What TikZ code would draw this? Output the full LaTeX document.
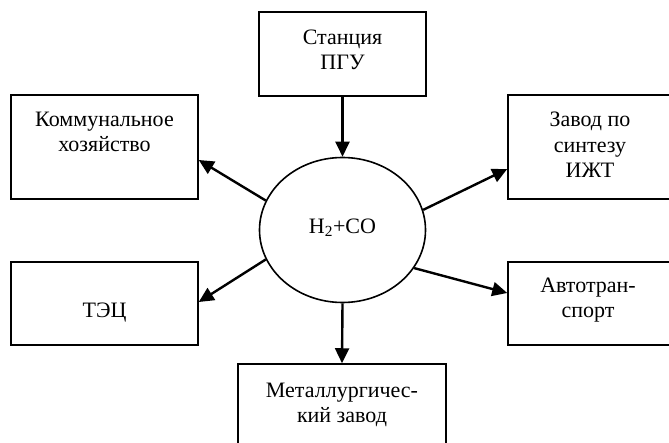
\documentclass[tikz,border=0pt]{standalone}
\usepackage{fontspec}
\setmainfont{Liberation Serif}
\usetikzlibrary{shapes.geometric,arrows.meta}
\begin{document}
\begin{tikzpicture}[x=1pt,y=-1pt,
  box/.style={draw,line width=1.5pt,inner sep=0pt},
  lbl/.style={align=center,inner sep=0pt,font=\fontsize{22}{25.5}\selectfont},
  hub/.style={draw,ellipse,line width=1.6pt,inner sep=0pt,minimum width=166pt,minimum height=145pt},
  arr/.style={line width=2.4pt,-{Triangle[length=15pt,width=14pt]}}]
\useasboundingbox (0,0) rectangle (669,443);
% boxes
\node[box,minimum width=167pt,minimum height=84pt] (top) at (342.5,54) {};
\node[box,minimum width=187pt,minimum height=104pt] (ul) at (104.5,147) {};
\node[box,minimum width=164pt,minimum height=104pt] (ur) at (590,147) {};
\node[box,minimum width=187pt,minimum height=83pt] (ll) at (104.5,303.5) {};
\node[box,minimum width=164pt,minimum height=83pt] (lr) at (590,303.5) {};
\node[box,minimum width=208pt,minimum height=96pt] (bot) at (342,412) {};
% hub
\node[hub] (c) at (342.5,230) {};
% texts
\node[lbl] (ttop) at (342.5,50) {Станция\\ПГУ};
\node[lbl] (tul) at (104.5,132) {Коммунальное\\хозяйство};
\node[lbl] (tur) at (590,145) {Завод по\\синтезу\\ИЖТ};
\node[lbl] (tll) at (104.5,313) {ТЭЦ};
\node[lbl] (tlr) at (588,300) {Автотран-\\спорт};
\node[lbl] (tbot) at (342,405) {Металлургичес-\\кий завод};
\node[lbl] (tc) at (342.5,228) {H\textsubscript{2}+CO};
% arrows
\draw[arr] (top.south) -- (c.north);
\draw[arr] (c.159) -- (ul.east |- 0,160);
\draw[arr] (c.201) -- (ll.east |- 0,302);
\draw[arr] (c.14) -- (ur.west |- 0,169);
\draw[arr] (c.332) -- (lr.west |- 0,293);
\draw[arr] (c.south) -- (bot.north);
\end{tikzpicture}
\end{document}
